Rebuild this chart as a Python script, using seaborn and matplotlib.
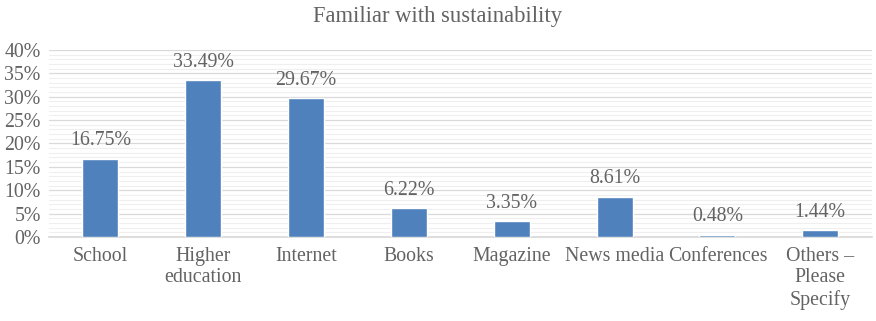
import matplotlib
matplotlib.use("Agg")
import matplotlib.pyplot as plt
from matplotlib.ticker import MultipleLocator, PercentFormatter
import seaborn as sns
import pandas as pd

categories = ["School", "Higher\neducation", "Internet", "Books", "Magazine",
              "News media", "Conferences", "Others \u2013\nPlease\nSpecify"]
values = [16.75, 33.49, 29.67, 6.22, 3.35, 8.61, 0.48, 1.44]
title = "Familiar with sustainability"

sns.set_theme(style="white")
plt.rcParams["font.family"] = ["Liberation Serif", "DejaVu Serif"]

text_color = "#636363"
df = pd.DataFrame({"source": categories, "share": values})

fig = plt.figure(figsize=(8.76, 3.21), dpi=100)
ax = fig.add_axes([0.056, 0.262, 0.939, 0.582])

sns.barplot(data=df, x="source", y="share", color="#4F81BD", saturation=1,
            width=0.35, ax=ax, zorder=3)

ax.set_ylim(0, 40)
ax.yaxis.set_major_locator(MultipleLocator(5))
ax.yaxis.set_minor_locator(MultipleLocator(1))
ax.yaxis.set_major_formatter(PercentFormatter(decimals=0))
ax.grid(which="major", axis="y", color="#D9D9D9", linewidth=0.9, zorder=0)
ax.grid(which="minor", axis="y", color="#EFEFEF", linewidth=0.8, zorder=0)
ax.set_axisbelow(True)

for side in ["top", "right", "left"]:
    ax.spines[side].set_visible(False)
ax.spines["bottom"].set_color("#D9D9D9")

ax.tick_params(axis="both", which="both", length=0, colors=text_color, labelsize=14.3)
ax.tick_params(axis="x", pad=7)
ax.tick_params(axis="y", pad=6)
ax.set_xlabel("")
ax.set_ylabel("")

for i, v in enumerate(values):
    ax.annotate(f"{v:.2f}%", (i, v), xytext=(0, 6), textcoords="offset points",
                ha="center", va="bottom", fontsize=14.3, color=text_color)

fig.suptitle(title, y=0.98, fontsize=16.3, color=text_color)

fig.savefig("out.png", dpi=100)
